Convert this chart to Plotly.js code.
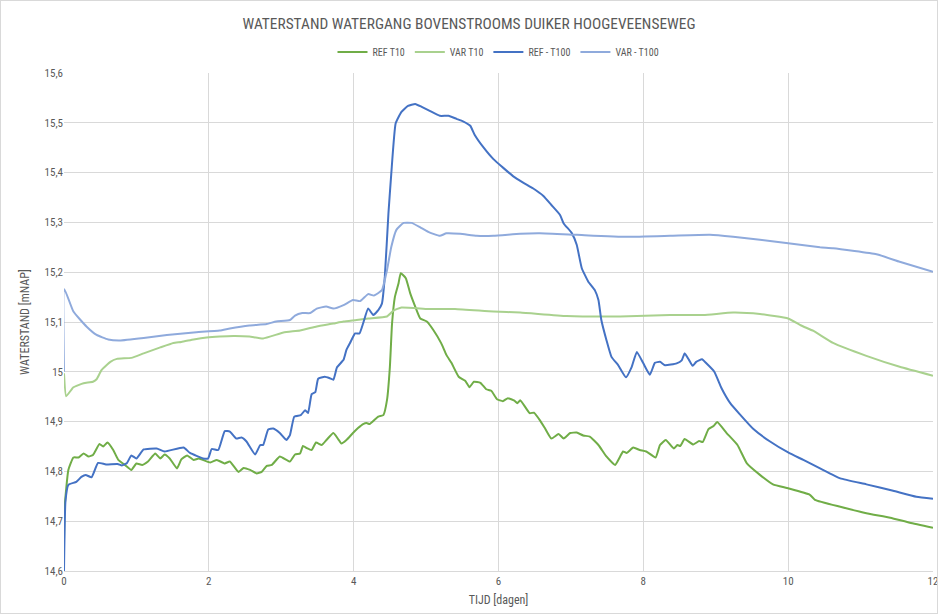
<!DOCTYPE html>
<html>
<head>
<meta charset="utf-8">
<script src="https://cdn.plot.ly/plotly-3.0.1.min.js"></script>
<style>
html,body{margin:0;padding:0;background:#fff;}
#chart{width:936px;height:612px;border:1px solid #d9d9d9;}
</style>
</head>
<body>
<div id="chart"></div>
<script>
// [day, waterstand mNAP]
var refT10 = [[0,14.66],[0.01,14.73],[0.06,14.803],[0.13,14.828],[0.20,14.828],[0.27,14.836],[0.34,14.830],[0.40,14.833],[0.49,14.855],[0.54,14.850],[0.60,14.858],[0.68,14.843],[0.75,14.823],[0.84,14.813],[0.93,14.803],[1.00,14.816],[1.08,14.813],[1.16,14.820],[1.26,14.836],[1.33,14.826],[1.39,14.834],[1.46,14.826],[1.56,14.806],[1.62,14.824],[1.70,14.832],[1.79,14.823],[1.86,14.826],[2.02,14.818],[2.11,14.823],[2.22,14.816],[2.29,14.820],[2.41,14.799],[2.48,14.807],[2.57,14.803],[2.66,14.796],[2.73,14.799],[2.80,14.811],[2.87,14.813],[2.98,14.830],[3.12,14.820],[3.19,14.834],[3.26,14.836],[3.30,14.851],[3.35,14.847],[3.42,14.843],[3.48,14.858],[3.56,14.853],[3.63,14.864],[3.72,14.877],[3.79,14.864],[3.83,14.856],[3.90,14.863],[3.99,14.877],[4.06,14.887],[4.13,14.895],[4.18,14.897],[4.22,14.895],[4.34,14.910],[4.41,14.913],[4.46,14.943],[4.50,15.010],[4.53,15.097],[4.57,15.151],[4.62,15.178],[4.65,15.198],[4.72,15.188],[4.78,15.158],[4.85,15.131],[4.92,15.107],[5.01,15.101],[5.10,15.084],[5.21,15.057],[5.28,15.034],[5.35,15.018],[5.45,14.990],[5.54,14.982],[5.60,14.969],[5.66,14.980],[5.75,14.978],[5.83,14.965],[5.90,14.962],[5.98,14.945],[6.06,14.941],[6.13,14.947],[6.22,14.942],[6.26,14.937],[6.30,14.943],[6.43,14.917],[6.49,14.918],[6.57,14.903],[6.64,14.887],[6.73,14.866],[6.83,14.875],[6.90,14.866],[6.99,14.877],[7.08,14.878],[7.17,14.872],[7.26,14.870],[7.38,14.853],[7.49,14.830],[7.61,14.813],[7.68,14.830],[7.72,14.840],[7.77,14.837],[7.86,14.848],[7.95,14.843],[8.04,14.840],[8.17,14.828],[8.23,14.853],[8.31,14.863],[8.42,14.846],[8.47,14.853],[8.51,14.851],[8.57,14.865],[8.69,14.854],[8.77,14.861],[8.82,14.859],[8.90,14.885],[8.97,14.891],[9.02,14.899],[9.15,14.877],[9.30,14.853],[9.43,14.816],[9.61,14.793],[9.79,14.774],[10.0,14.766],[10.30,14.753],[10.37,14.743],[10.72,14.729],[11.08,14.716],[11.41,14.707],[11.68,14.697],[12,14.687]];

var varT10 = [[0,14.997],[0.03,14.951],[0.13,14.969],[0.27,14.977],[0.40,14.980],[0.45,14.985],[0.52,15.004],[0.64,15.020],[0.73,15.026],[0.93,15.028],[1.10,15.037],[1.33,15.049],[1.51,15.058],[1.62,15.060],[1.79,15.065],[1.97,15.069],[2.15,15.071],[2.34,15.072],[2.56,15.071],[2.75,15.067],[3.03,15.079],[3.26,15.083],[3.49,15.091],[3.72,15.097],[3.86,15.101],[4.04,15.104],[4.20,15.107],[4.46,15.111],[4.55,15.123],[4.66,15.129],[5.03,15.126],[5.40,15.126],[5.93,15.121],[6.30,15.119],[6.94,15.112],[7.68,15.111],[8.37,15.114],[8.83,15.114],[9.24,15.119],[9.61,15.116],[10.0,15.107],[10.18,15.093],[10.35,15.082],[10.62,15.058],[11.08,15.032],[11.54,15.010],[12,14.992]];

var refT100 = [[0,14.6],[0.02,14.74],[0.06,14.773],[0.17,14.779],[0.24,14.789],[0.30,14.793],[0.38,14.788],[0.47,14.817],[0.58,14.814],[0.74,14.815],[0.80,14.812],[0.87,14.817],[0.93,14.832],[1.00,14.826],[1.10,14.844],[1.28,14.846],[1.39,14.840],[1.65,14.848],[1.74,14.837],[1.92,14.826],[1.99,14.826],[2.04,14.845],[2.13,14.843],[2.22,14.881],[2.29,14.880],[2.38,14.866],[2.45,14.868],[2.52,14.860],[2.64,14.834],[2.71,14.853],[2.75,14.853],[2.82,14.884],[2.89,14.886],[2.98,14.877],[3.07,14.863],[3.12,14.873],[3.18,14.910],[3.27,14.913],[3.33,14.923],[3.37,14.917],[3.42,14.955],[3.47,14.959],[3.51,14.986],[3.60,14.990],[3.67,14.987],[3.72,14.984],[3.77,15.009],[3.86,15.024],[3.90,15.044],[3.95,15.058],[4.02,15.077],[4.08,15.077],[4.13,15.097],[4.20,15.127],[4.27,15.114],[4.34,15.124],[4.39,15.137],[4.43,15.191],[4.48,15.318],[4.52,15.399],[4.58,15.499],[4.66,15.522],[4.75,15.534],[4.85,15.538],[4.94,15.532],[5.05,15.524],[5.19,15.514],[5.31,15.514],[5.42,15.508],[5.51,15.503],[5.61,15.494],[5.67,15.476],[5.79,15.451],[5.93,15.427],[6.07,15.409],[6.20,15.393],[6.34,15.380],[6.48,15.368],[6.62,15.353],[6.73,15.335],[6.85,15.315],[6.90,15.298],[7.01,15.279],[7.08,15.255],[7.15,15.208],[7.24,15.181],[7.33,15.164],[7.38,15.144],[7.42,15.104],[7.49,15.064],[7.56,15.030],[7.65,15.014],[7.76,14.989],[7.84,15.010],[7.91,15.040],[8.00,15.017],[8.09,14.994],[8.16,15.018],[8.23,15.020],[8.30,15.013],[8.46,15.017],[8.53,15.023],[8.57,15.037],[8.63,15.024],[8.68,15.012],[8.73,15.020],[8.81,15.025],[8.87,15.017],[8.98,15.000],[9.08,14.967],[9.20,14.937],[9.33,14.915],[9.52,14.885],[9.75,14.860],[10.0,14.838],[10.21,14.823],[10.44,14.806],[10.72,14.786],[11.08,14.774],[11.45,14.761],[11.77,14.749],[12,14.745]];

var varT100 = [[0,15.0],[0.005,15.166],[0.13,15.121],[0.31,15.091],[0.45,15.074],[0.61,15.065],[0.77,15.063],[1.10,15.068],[1.42,15.074],[1.79,15.079],[2.15,15.083],[2.29,15.087],[2.56,15.093],[2.80,15.096],[2.93,15.101],[3.12,15.104],[3.19,15.113],[3.29,15.118],[3.40,15.118],[3.49,15.127],[3.62,15.131],[3.72,15.127],[3.86,15.134],[3.99,15.144],[4.09,15.142],[4.20,15.156],[4.28,15.153],[4.39,15.164],[4.46,15.204],[4.52,15.251],[4.59,15.285],[4.69,15.299],[4.80,15.299],[4.92,15.290],[5.03,15.281],[5.19,15.273],[5.28,15.278],[5.47,15.277],[5.70,15.273],[5.93,15.273],[6.30,15.277],[6.57,15.278],[7.08,15.275],[7.77,15.271],[8.37,15.273],[8.92,15.275],[9.24,15.271],[9.61,15.265],[10.0,15.258],[10.44,15.250],[10.62,15.248],[11.22,15.236],[11.54,15.221],[12,15.201]];

var seriesNames = ['REF T10', 'VAR T10', 'REF - T100', 'VAR - T100'];
var seriesColors = ['#70AD47', '#A9D18E', '#4472C4', '#8FAADC'];
var seriesData = [refT10, varT10, refT100, varT100];

var yTickVals = [14.6, 14.7, 14.8, 14.9, 15.0, 15.1, 15.2, 15.3, 15.4, 15.5, 15.6];
var yTickText = ['14,6', '14,7', '14,8', '14,9', '15', '15,1', '15,2', '15,3', '15,4', '15,5', '15,6'];
var xTickVals = [0, 2, 4, 6, 8, 10, 12];

var FONT = '"Liberation Sans Narrow", "Roboto Condensed", "Open Sans", sans-serif';

var traces = seriesData.map(function (d, i) {
  return {
    type: 'scatter', mode: 'lines', name: seriesNames[i],
    x: d.map(function (p) { return p[0]; }),
    y: d.map(function (p) { return p[1]; }),
    line: { color: seriesColors[i], width: 2, shape: 'spline', smoothing: 0.4 }
  };
});

var layout = {
  width: 936, height: 612,
  margin: { l: 63, r: 4, t: 72, b: 42 },
  paper_bgcolor: '#ffffff', plot_bgcolor: '#ffffff',
  font: { family: FONT, color: '#595959', size: 11 },
  title: { text: 'WATERSTAND WATERGANG BOVENSTROOMS DUIKER HOOGEVEENSEWEG',
           font: { family: FONT, size: 15.4, color: '#595959' },
           x: 0.5, xanchor: 'center', y: 1 - 23 / 612, yanchor: 'middle', yref: 'container' },
  showlegend: true,
  legend: { orientation: 'h', x: 0.5, xanchor: 'center', y: 1 - 51 / 612, yanchor: 'middle', yref: 'container',
            font: { family: FONT, size: 10, color: '#595959' }, itemwidth: 30, tracegroupgap: 0 },
  xaxis: {
    range: [0, 12], tickvals: xTickVals, ticktext: xTickVals.map(String),
    showgrid: true, gridcolor: '#d9d9d9', gridwidth: 1,
    zeroline: false, showline: true, linecolor: '#d9d9d9', mirror: false,
    ticks: '', ticklabeloverflow: 'allow',
    tickfont: { family: FONT, size: 11, color: '#595959' },
    title: { text: 'TIJD [dagen]', font: { family: FONT, size: 12, color: '#595959' }, standoff: 8 }
  },
  yaxis: {
    range: [14.6, 15.6], tickvals: yTickVals, ticktext: yTickText,
    showgrid: true, gridcolor: '#d9d9d9', gridwidth: 1,
    zeroline: false, showline: false,
    ticks: '', tickfont: { family: FONT, size: 11, color: '#595959' },
    title: { text: 'WATERSTAND [mNAP]', font: { family: FONT, size: 12, color: '#595959' }, standoff: 12 }
  }
};

Plotly.newPlot('chart', traces, layout, { displayModeBar: false, staticPlot: true });
</script>
</body>
</html>
